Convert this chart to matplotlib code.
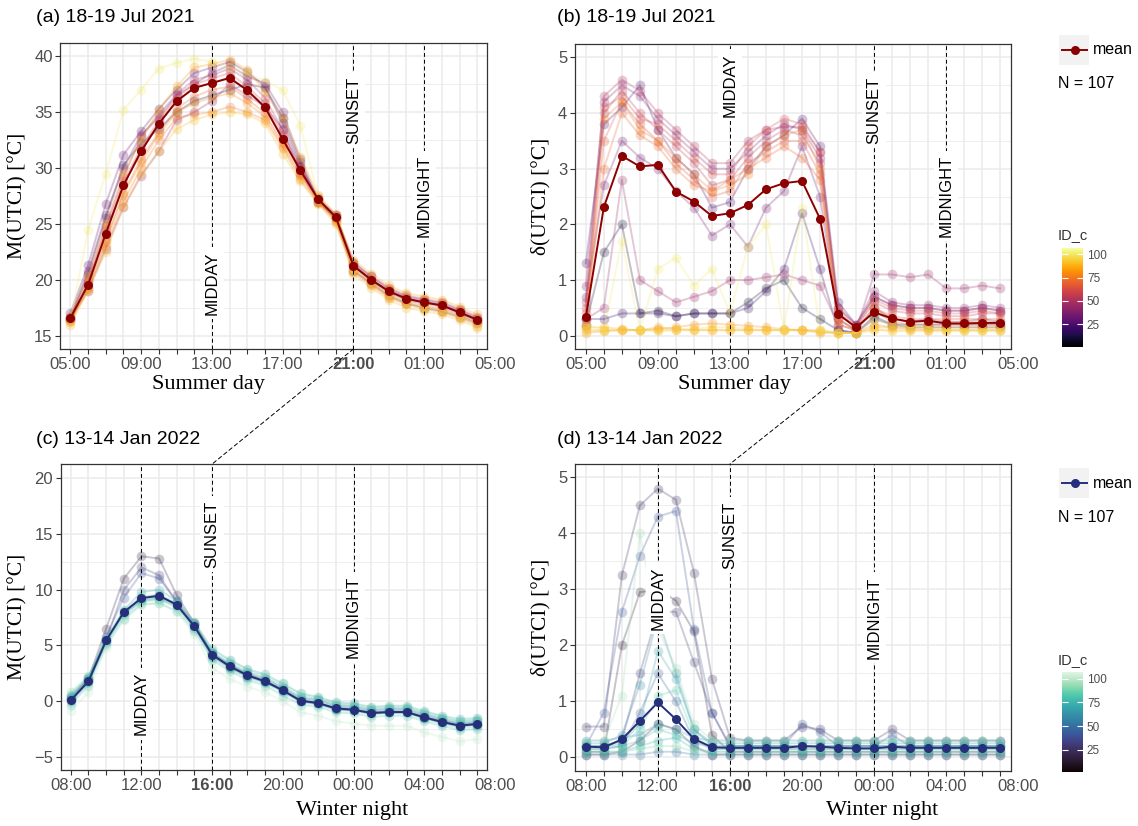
import numpy as np
import matplotlib.pyplot as plt
import seaborn as sns  # registers the "mako" colormap
from matplotlib.colors import Normalize
from matplotlib.patches import Rectangle, ConnectionPatch
from matplotlib.lines import Line2D
from matplotlib.colorbar import ColorbarBase

plt.rcParams['font.family'] = ['Liberation Sans', 'DejaVu Sans']
SERIF = ['Liberation Serif', 'DejaVu Serif']

# ---- data -------------------------------------------------------------
summer_ticks = ["05:00", "09:00", "13:00", "17:00", "21:00", "01:00", "05:00"]
winter_ticks = ["08:00", "12:00", "16:00", "20:00", "00:00", "04:00", "08:00"]

# hour index of the reference lines and height of their labels
summer_events = {"MIDDAY": 8, "SUNSET": 16, "MIDNIGHT": 20}
winter_events = {"MIDDAY": 4, "SUNSET": 8, "MIDNIGHT": 16}
label_y_a = {"MIDDAY": 19.7, "SUNSET": 35.2, "MIDNIGHT": 27.5}
label_y_b = {"MIDDAY": 4.5, "SUNSET": 4.05, "MIDNIGHT": 2.51}
label_y_c = {"MIDDAY": -0.22, "SUNSET": 15.0, "MIDNIGHT": 7.53}
label_y_d = {"MIDDAY": 2.85, "SUNSET": 3.97, "MIDNIGHT": 2.5}

# mean over all sensors
mean_a = [16.58, 19.56, 24.13, 28.45, 31.5, 33.97, 35.97, 37.17, 37.61, 38.06, 36.96, 35.44,
          32.6, 29.8, 27.23, 25.62, 21.26, 20.01, 18.97, 18.31, 17.98, 17.71, 17.09, 16.43]
mean_b = [0.33, 2.31, 3.23, 3.04, 3.07, 2.59, 2.41, 2.15, 2.2, 2.35, 2.63, 2.74,
          2.78, 2.1, 0.39, 0.15, 0.42, 0.31, 0.25, 0.27, 0.22, 0.22, 0.23, 0.23]
mean_c = [0.08, 1.78, 5.45, 7.99, 9.25, 9.46, 8.65, 6.71, 4.17, 3.12, 2.32, 1.78,
          0.97, 0.05, -0.16, -0.64, -0.76, -1.06, -0.97, -0.97, -1.45, -1.86, -2.19, -2.04]
mean_d = [0.19, 0.18, 0.32, 0.65, 0.98, 0.68, 0.33, 0.18, 0.17, 0.17, 0.17, 0.17,
          0.2, 0.19, 0.17, 0.16, 0.16, 0.19, 0.17, 0.17, 0.17, 0.17, 0.17, 0.17]

# individual sensors (ID_c and hourly values)
ids_a = [100, 30, 45, 60, 75, 85, 15, 90, 50, 70, 55, 35, 80]
sensors_a = [
    [16.3, 24.5, 29.5, 35.2, 37.0, 38.9, 39.4, 39.8, 39.5, 39.0, 38.5, 37.8, 37.0, 33.8, 27.5, 25.6, 21.0, 19.8, 18.7, 18.0, 17.6, 17.3, 16.7, 16.0],
    [17.0, 21.3, 26.8, 31.2, 33.3, 35.3, 37.0, 38.5, 39.0, 39.5, 38.6, 37.3, 34.0, 30.2, 27.2, 25.8, 21.5, 20.3, 19.2, 18.5, 18.2, 17.9, 17.3, 16.6],
    [16.5, 19.0, 22.8, 26.5, 29.3, 31.5, 34.3, 35.0, 36.0, 37.5, 36.5, 35.5, 33.5, 29.5, 27.0, 25.5, 21.3, 20.0, 19.0, 18.3, 18.0, 17.7, 17.1, 16.4],
    [16.4, 19.8, 24.5, 28.8, 31.8, 34.3, 36.3, 37.5, 38.0, 38.5, 37.3, 35.8, 33.0, 30.0, 27.3, 25.7, 21.4, 20.1, 19.1, 18.4, 18.1, 17.8, 17.2, 16.5],
    [16.2, 19.2, 23.0, 27.0, 30.0, 32.5, 34.5, 34.8, 35.0, 35.5, 35.0, 34.3, 31.8, 29.0, 26.9, 25.2, 20.7, 19.5, 18.4, 17.8, 17.4, 17.1, 16.6, 15.9],
    [16.8, 20.3, 25.0, 29.5, 32.5, 35.2, 37.3, 39.0, 39.3, 39.7, 38.8, 36.8, 34.5, 31.0, 27.6, 25.9, 21.8, 20.5, 19.5, 18.8, 18.5, 18.2, 17.6, 16.9],
    [16.6, 20.5, 25.5, 30.3, 32.2, 33.5, 35.0, 36.0, 36.5, 37.0, 37.5, 37.2, 34.5, 30.5, 27.0, 25.5, 20.8, 19.7, 18.6, 17.9, 17.5, 17.2, 16.7, 16.1],
    [16.0, 19.0, 22.5, 26.5, 29.5, 31.5, 33.5, 34.3, 34.8, 35.0, 34.8, 34.0, 31.3, 28.8, 26.8, 25.0, 20.5, 19.3, 18.2, 17.5, 17.2, 16.9, 16.4, 15.7],
    [16.7, 20.0, 24.8, 29.2, 32.8, 34.8, 36.6, 37.9, 38.3, 38.9, 37.9, 36.3, 33.4, 30.1, 27.4, 25.8, 21.6, 20.3, 19.3, 18.6, 18.3, 18.0, 17.4, 16.7],
    [16.4, 19.4, 23.6, 27.8, 30.8, 33.2, 35.3, 36.4, 37.0, 37.3, 36.2, 34.9, 32.2, 29.5, 27.1, 25.4, 21.0, 19.8, 18.7, 18.1, 17.7, 17.4, 16.9, 16.2],
    [16.5, 19.6, 24.2, 28.5, 31.6, 34.0, 36.0, 37.2, 37.6, 38.1, 37.0, 35.5, 32.6, 29.8, 27.2, 25.6, 21.3, 20.0, 19.0, 18.3, 18.0, 17.7, 17.1, 16.4],
    [16.6, 20.8, 25.8, 30.0, 33.0, 34.5, 36.5, 37.5, 38.5, 39.2, 38.2, 37.6, 35.0, 30.8, 27.2, 25.6, 21.2, 19.9, 18.9, 18.2, 17.9, 17.6, 17.0, 16.3],
    [16.3, 19.3, 23.4, 27.6, 30.5, 33.0, 35.0, 35.8, 36.3, 36.7, 35.8, 34.6, 32.0, 29.3, 27.0, 25.3, 20.9, 19.6, 18.5, 17.9, 17.6, 17.3, 16.8, 16.1],
]

ids_b = [40, 55, 25, 65, 35, 90, 80, 100, 20, 45, 70, 60, 50, 75, 95, 85, 10]
sensors_b = [
    [0.9, 4.2, 4.5, 4.3, 3.9, 3.6, 3.3, 3.0, 3.0, 3.3, 3.6, 3.8, 3.7, 3.2, 0.5, 0.2, 0.8, 0.6, 0.55, 0.55, 0.5, 0.5, 0.55, 0.5],
    [0.5, 4.0, 4.4, 4.0, 3.7, 3.4, 3.1, 2.7, 2.8, 3.2, 3.5, 3.7, 3.6, 3.1, 0.4, 0.15, 0.6, 0.45, 0.4, 0.4, 0.35, 0.35, 0.4, 0.4],
    [1.3, 3.8, 4.1, 4.5, 3.7, 3.2, 2.9, 2.3, 2.4, 3.0, 3.4, 3.6, 3.9, 3.4, 0.6, 0.2, 0.7, 0.55, 0.5, 0.5, 0.45, 0.45, 0.5, 0.45],
    [0.3, 3.5, 4.2, 3.8, 3.5, 3.1, 2.8, 2.5, 2.6, 3.1, 3.3, 3.5, 3.5, 2.9, 0.3, 0.1, 0.5, 0.35, 0.3, 0.3, 0.3, 0.3, 0.3, 0.3],
    [0.7, 2.7, 3.5, 3.2, 3.0, 2.6, 2.3, 1.8, 2.0, 1.6, 2.3, 2.6, 3.4, 2.5, 0.3, 0.1, 0.5, 0.3, 0.25, 0.3, 0.25, 0.25, 0.3, 0.25],
    [0.1, 0.1, 0.1, 0.1, 0.1, 0.1, 0.1, 0.1, 0.1, 0.1, 0.1, 0.1, 0.1, 0.1, 0.05, 0.05, 0.1, 0.1, 0.1, 0.1, 0.1, 0.1, 0.1, 0.1],
    [0.05, 0.08, 0.1, 0.1, 0.12, 0.15, 0.2, 0.22, 0.2, 0.18, 0.15, 0.12, 0.1, 0.08, 0.05, 0.05, 0.2, 0.15, 0.12, 0.1, 0.1, 0.1, 0.1, 0.1],
    [0.2, 0.1, 1.7, 0.1, 1.2, 1.4, 0.9, 1.2, 0.4, 1.6, 2.0, 0.1, 2.3, 0.1, 0.05, 0.05, 0.3, 0.2, 0.15, 0.15, 0.1, 0.1, 0.1, 0.1],
    [0.3, 0.3, 0.4, 0.4, 0.4, 0.35, 0.4, 0.4, 0.4, 0.5, 0.8, 1.2, 2.2, 1.2, 0.1, 0.05, 0.3, 0.2, 0.15, 0.15, 0.15, 0.15, 0.15, 0.15],
    [0.3, 0.5, 2.8, 1.0, 0.8, 0.6, 0.7, 0.8, 1.0, 1.0, 1.05, 1.1, 1.0, 0.9, 0.2, 0.1, 1.1, 1.1, 1.05, 1.1, 0.85, 0.85, 0.9, 0.85],
    [0.2, 3.0, 4.0, 3.6, 3.4, 3.0, 2.7, 2.6, 2.8, 3.0, 3.2, 3.4, 3.2, 2.8, 0.2, 0.1, 0.45, 0.25, 0.2, 0.2, 0.2, 0.2, 0.2, 0.2],
    [0.4, 4.1, 4.3, 3.9, 3.8, 3.5, 3.2, 2.9, 2.9, 3.4, 3.7, 3.9, 3.8, 3.3, 0.45, 0.15, 0.65, 0.5, 0.45, 0.45, 0.4, 0.4, 0.45, 0.4],
    [0.6, 4.3, 4.6, 4.4, 4.0, 3.7, 3.4, 3.1, 3.1, 3.5, 3.7, 3.75, 3.75, 3.3, 0.5, 0.2, 0.7, 0.55, 0.5, 0.5, 0.45, 0.45, 0.5, 0.45],
    [0.15, 3.9, 4.2, 3.7, 3.5, 3.2, 2.9, 2.6, 2.7, 2.9, 3.4, 3.6, 3.7, 3.0, 0.3, 0.1, 0.5, 0.3, 0.25, 0.25, 0.25, 0.25, 0.25, 0.25],
    [0.08, 0.1, 0.1, 0.1, 0.08, 0.1, 0.12, 0.15, 0.15, 0.12, 0.1, 0.1, 0.1, 0.08, 0.05, 0.05, 0.12, 0.08, 0.08, 0.08, 0.08, 0.08, 0.08, 0.08],
    [0.15, 0.15, 0.12, 0.1, 0.15, 0.12, 0.1, 0.1, 0.1, 0.1, 0.1, 0.1, 0.1, 0.05, 0.05, 0.05, 0.15, 0.15, 0.15, 0.15, 0.15, 0.15, 0.15, 0.15],
    [0.2, 1.5, 2.0, 0.4, 0.45, 0.35, 0.4, 0.4, 0.4, 0.6, 0.85, 1.0, 0.5, 0.3, 0.1, 0.05, 0.35, 0.2, 0.2, 0.2, 0.2, 0.2, 0.2, 0.2],
]

ids_c = [20, 40, 70, 60, 80, 100, 90, 30, 50, 65, 75, 85]
sensors_c = [
    [0.3, 2.0, 6.5, 11.0, 13.0, 12.8, 9.5, 7.0, 4.3, 3.2, 2.4, 1.8, 1.0, 0.0, -0.2, -0.7, -0.8, -1.1, -1.0, -1.0, -1.5, -1.9, -2.2, -2.1],
    [0.2, 1.9, 5.8, 9.3, 11.5, 11.0, 9.0, 6.9, 4.2, 3.1, 2.3, 1.8, 1.0, 0.1, -0.2, -0.6, -0.7, -1.0, -0.9, -0.9, -1.4, -1.8, -2.1, -2.0],
    [0.6, 2.2, 5.6, 8.2, 9.8, 10.0, 9.0, 7.1, 4.7, 3.7, 2.9, 2.4, 1.6, 0.7, 0.4, -0.1, -0.2, -0.5, -0.4, -0.4, -0.9, -1.3, -1.6, -1.5],
    [0.0, 1.7, 5.3, 7.8, 9.0, 9.2, 8.5, 6.6, 4.0, 3.0, 2.2, 1.7, 0.9, 0.0, -0.2, -0.7, -0.8, -1.1, -1.0, -1.0, -1.5, -1.9, -2.3, -2.1],
    [-0.3, 1.4, 5.0, 7.4, 8.7, 8.8, 8.1, 6.3, 3.7, 2.7, 1.9, 1.4, 0.5, -0.3, -0.5, -1.0, -1.1, -1.4, -1.3, -1.3, -1.8, -2.2, -2.6, -2.5],
    [-0.9, 0.8, 4.8, 7.3, 8.6, 8.8, 8.0, 6.0, 3.0, 2.0, 1.3, 0.8, 0.0, -1.0, -1.3, -1.8, -2.0, -2.2, -2.2, -2.2, -2.8, -3.2, -3.6, -3.4],
    [0.8, 2.3, 5.6, 8.1, 9.4, 9.6, 8.8, 7.0, 4.5, 3.6, 2.8, 2.2, 1.5, 0.6, 0.3, -0.2, -0.3, -0.6, -0.5, -0.5, -1.0, -1.4, -1.8, -1.6],
    [0.1, 1.8, 5.5, 10.0, 12.0, 11.3, 8.8, 6.8, 4.1, 3.1, 2.3, 1.7, 1.0, 0.0, -0.2, -0.7, -0.8, -1.0, -1.0, -1.0, -1.4, -1.8, -2.2, -2.0],
    [0.4, 2.0, 5.4, 8.0, 9.3, 9.5, 8.7, 6.8, 4.3, 3.3, 2.5, 2.0, 1.2, 0.3, 0.1, -0.4, -0.5, -0.8, -0.7, -0.7, -1.2, -1.6, -2.0, -1.8],
    [0.2, 1.8, 5.4, 7.9, 9.1, 9.3, 8.6, 6.7, 4.2, 3.2, 2.4, 1.9, 1.1, 0.2, 0.0, -0.5, -0.6, -0.9, -0.8, -0.8, -1.3, -1.7, -2.0, -1.9],
    [0.5, 2.1, 5.5, 8.0, 9.2, 9.4, 8.7, 6.9, 4.4, 3.4, 2.6, 2.1, 1.3, 0.4, 0.2, -0.3, -0.4, -0.7, -0.6, -0.6, -1.1, -1.5, -1.8, -1.7],
    [-0.1, 1.6, 5.2, 7.7, 8.9, 9.1, 8.4, 6.5, 3.9, 2.9, 2.1, 1.6, 0.8, -0.1, -0.3, -0.8, -0.9, -1.2, -1.1, -1.1, -1.6, -2.0, -2.4, -2.3],
]

ids_d = [25, 40, 15, 95, 60, 75, 50, 30, 85, 70, 65, 80, 90, 45, 20]
sensors_d = [
    [0.55, 0.55, 3.25, 4.5, 4.8, 4.6, 3.3, 1.4, 0.35, 0.3, 0.3, 0.3, 0.55, 0.5, 0.3, 0.3, 0.3, 0.5, 0.3, 0.3, 0.3, 0.3, 0.3, 0.3],
    [0.2, 0.8, 2.6, 3.6, 4.3, 4.4, 2.3, 0.8, 0.2, 0.2, 0.2, 0.2, 0.6, 0.45, 0.2, 0.2, 0.2, 0.4, 0.2, 0.2, 0.2, 0.2, 0.2, 0.2],
    [0.1, 0.1, 2.0, 2.95, 3.0, 2.8, 2.25, 0.4, 0.1, 0.1, 0.1, 0.1, 0.1, 0.1, 0.1, 0.1, 0.1, 0.1, 0.1, 0.1, 0.1, 0.1, 0.1, 0.1],
    [0.3, 0.3, 1.1, 4.0, 2.3, 1.6, 0.6, 0.3, 0.3, 0.3, 0.3, 0.3, 0.3, 0.3, 0.3, 0.3, 0.3, 0.3, 0.3, 0.3, 0.3, 0.3, 0.3, 0.3],
    [0.25, 0.25, 0.4, 1.3, 2.5, 1.5, 0.5, 0.25, 0.25, 0.25, 0.25, 0.25, 0.25, 0.25, 0.25, 0.25, 0.25, 0.25, 0.25, 0.25, 0.25, 0.25, 0.25, 0.25],
    [0.1, 0.1, 0.1, 0.2, 0.3, 0.35, 0.15, 0.1, 0.1, 0.1, 0.1, 0.1, 0.1, 0.1, 0.1, 0.1, 0.1, 0.1, 0.1, 0.1, 0.1, 0.1, 0.1, 0.1],
    [0.05, 0.05, 0.05, 0.05, 0.1, 0.1, 0.05, 0.05, 0.05, 0.05, 0.05, 0.05, 0.05, 0.05, 0.05, 0.05, 0.05, 0.05, 0.05, 0.05, 0.05, 0.05, 0.05, 0.05],
    [0.2, 0.2, 0.3, 1.5, 2.6, 2.6, 1.7, 0.8, 0.2, 0.2, 0.2, 0.2, 0.2, 0.2, 0.2, 0.2, 0.2, 0.2, 0.2, 0.2, 0.2, 0.2, 0.2, 0.2],
    [0.15, 0.15, 0.2, 0.5, 1.1, 1.2, 0.4, 0.15, 0.15, 0.15, 0.15, 0.15, 0.15, 0.15, 0.15, 0.15, 0.15, 0.15, 0.15, 0.15, 0.15, 0.15, 0.15, 0.15],
    [0.2, 0.2, 0.25, 0.6, 1.9, 1.4, 0.5, 0.2, 0.2, 0.2, 0.2, 0.2, 0.2, 0.2, 0.2, 0.2, 0.2, 0.2, 0.2, 0.2, 0.2, 0.2, 0.2, 0.2],
    [0.3, 0.3, 0.35, 0.4, 0.6, 0.5, 0.35, 0.3, 0.3, 0.3, 0.3, 0.3, 0.3, 0.3, 0.3, 0.3, 0.3, 0.3, 0.3, 0.3, 0.3, 0.3, 0.3, 0.3],
    [0.2, 0.2, 0.2, 0.3, 0.5, 0.4, 0.25, 0.2, 0.2, 0.2, 0.2, 0.2, 0.2, 0.2, 0.2, 0.2, 0.2, 0.2, 0.2, 0.2, 0.2, 0.2, 0.2, 0.2],
    [0.1, 0.1, 0.1, 0.15, 0.2, 0.2, 0.1, 0.1, 0.1, 0.1, 0.1, 0.1, 0.1, 0.1, 0.1, 0.1, 0.1, 0.1, 0.1, 0.1, 0.1, 0.1, 0.1, 0.1],
    [0.15, 0.15, 0.2, 0.8, 1.5, 1.0, 0.3, 0.15, 0.15, 0.15, 0.15, 0.15, 0.15, 0.15, 0.15, 0.15, 0.15, 0.15, 0.15, 0.15, 0.15, 0.15, 0.15, 0.15],
    [0.05, 0.05, 0.1, 0.3, 0.6, 0.5, 0.2, 0.05, 0.05, 0.05, 0.05, 0.05, 0.05, 0.05, 0.05, 0.05, 0.05, 0.05, 0.05, 0.05, 0.05, 0.05, 0.05, 0.05],
]

n_sensors = 107

# ---- layout helpers (pixel positions on a 1138 x 826 canvas) -----------
W, H = 1138, 826


def box(l, t, r, b):
    return [l / W, 1 - b / H, (r - l) / W, (b - t) / H]


def fx(x):
    return x / W


def fy(y):
    return 1 - y / H


fig = plt.figure(figsize=(W / 100, H / 100), dpi=100)

GRID = '#EBEBEB'
FRAME = '#333333'
TICKC = '#4D4D4D'
TICK_FS = 12
norm = Normalize(1, n_sensors)
cm_summer = plt.get_cmap('inferno')
cm_winter = plt.get_cmap('mako')


def draw_panel(ax, ids, sensors, mean, cmap, mean_col, ylim, yticks, xlim,
               ticklabels, bold_idx, events, label_y):
    hours = np.arange(len(mean))
    for sid, vals in sorted(zip(ids, sensors)):
        c = cmap(norm(sid))
        ax.plot(hours, vals, '-o', color=c, alpha=0.26, lw=1.4, ms=7, mec='none', zorder=2)
    ax.plot(hours, mean, '-o', color=mean_col, lw=1.4, ms=5.5, zorder=4)

    # reference lines with boxed labels
    for name, idx in events.items():
        ax.axvline(idx, color='black', lw=0.7, ls=(0, (4, 3)), zorder=3)
        ax.text(idx, label_y[name], name, rotation=90, ha='center', va='center',
                fontsize=12, zorder=5,
                bbox=dict(boxstyle='square,pad=0.25', fc='white', ec='none'))

    ax.set_xlim(*xlim)
    ax.set_ylim(*ylim)
    ax.set_xticks(hours)
    ax.set_xticklabels([ticklabels[i // 4] if i % 4 == 0 else '' for i in hours])
    ax.get_xticklabels()[bold_idx].set_fontweight('bold')
    # closing label one hour past the last point, outside the panel
    ax.annotate(ticklabels[-1], xy=(24, 0), xycoords=('data', 'axes fraction'),
                xytext=(0, -5.5), textcoords='offset points', ha='center', va='top',
                fontsize=TICK_FS, color=TICKC, annotation_clip=False)
    ax.set_yticks(yticks)
    step = yticks[1] - yticks[0]
    ax.set_yticks(np.array(yticks[:-1]) + step / 2, minor=True)
    ax.tick_params(axis='both', which='major', labelsize=TICK_FS, labelcolor=TICKC,
                   color=FRAME, length=3.5, width=0.8, pad=2)
    ax.tick_params(axis='y', which='minor', length=0)
    ax.grid(True, which='major', color=GRID, lw=1.1, zorder=0)
    ax.grid(True, which='minor', axis='y', color=GRID, lw=0.6, zorder=0)
    ax.set_axisbelow(True)
    for s in ax.spines.values():
        s.set_color(FRAME)
        s.set_linewidth(0.9)


ax_a = fig.add_axes(box(60.3, 43, 487.3, 349))
ax_b = fig.add_axes(box(575, 44, 1011, 349.3))
ax_c = fig.add_axes(box(60.7, 464, 487.3, 770))
ax_d = fig.add_axes(box(575, 464, 1011, 771))

draw_panel(ax_a, ids_a, sensors_a, mean_a, cm_summer, '#8B0000', (13.81, 41.19),
           [15, 20, 25, 30, 35, 40], (-0.57, 23.57), summer_ticks, 16, summer_events, label_y_a)
draw_panel(ax_b, ids_b, sensors_b, mean_b, cm_summer, '#8B0000', (-0.244, 5.24),
           [0, 1, 2, 3, 4, 5], (-0.6, 23.6), summer_ticks, 16, summer_events, label_y_b)
draw_panel(ax_c, ids_c, sensors_c, mean_c, cm_winter, '#26307A', (-6.17, 21.28),
           [-5, 0, 5, 10, 15, 20], (-0.57, 23.57), winter_ticks, 8, winter_events, label_y_c)
draw_panel(ax_d, ids_d, sensors_d, mean_d, cm_winter, '#26307A', (-0.244, 5.24),
           [0, 1, 2, 3, 4, 5], (-0.6, 23.6), winter_ticks, 8, winter_events, label_y_d)

# panel titles
for (x, y), t in zip([(36, 18), (557, 18), (36, 439), (557, 439)],
                     ["(a) 18-19 Jul 2021", "(b) 18-19 Jul 2021",
                      "(c) 13-14 Jan 2022", "(d) 13-14 Jan 2022"]):
    fig.text(fx(x), fy(y), t, fontsize=14, ha='left', va='center')

# axis titles
for x, y, t in [(208, 385, "Summer day"), (734, 385, "Summer day"),
                (352, 811, "Winter night"), (882, 811, "Winter night")]:
    fig.text(fx(x), fy(y), t, family=SERIF, fontsize=16, ha='center', va='center')
for x, y, t in [(18, 196, "M(UTCI) [°C]"), (541, 196, "δ(UTCI) [°C]"),
                (18, 617, "M(UTCI) [°C]"), (541, 617, "δ(UTCI) [°C]")]:
    fig.text(fx(x), fy(y), t, family=SERIF, fontsize=15.5, rotation=90,
             ha='center', va='center')

# sunset in summer linked to sunset in winter
for top, bot in [(ax_a, ax_c), (ax_b, ax_d)]:
    con = ConnectionPatch(xyA=(summer_events["SUNSET"], top.get_ylim()[0]), coordsA=top.transData,
                          xyB=(winter_events["SUNSET"], bot.get_ylim()[1]), coordsB=bot.transData,
                          color='black', lw=0.7, ls=(0, (4, 3)), zorder=10)
    fig.add_artist(con)


# legends: mean key, sample size and ID colour bar
def side_legend(key_top, n_y, title_y, bar_top, bar_bot, mean_col, cmap):
    fig.add_artist(Rectangle((fx(1059), fy(key_top + 30)), 30 / W, 30 / H,
                             transform=fig.transFigure, fc='#F2F2F2', ec='none'))
    ky = fy(key_top + 15)
    fig.add_artist(Line2D([fx(1062), fx(1087)], [ky, ky], transform=fig.transFigure,
                          color=mean_col, lw=1.4))
    fig.add_artist(Line2D([fx(1074.5)], [ky], transform=fig.transFigure, marker='o',
                          color=mean_col, ms=5.5))
    fig.text(fx(1093), ky, "mean", fontsize=11.5, ha='left', va='center')
    fig.text(fx(1058), fy(n_y), f"N = {n_sensors}", fontsize=11.5, ha='left', va='center')
    fig.text(fx(1058), fy(title_y), "ID_c", fontsize=10.5, color='#333333', ha='left', va='center')
    cax = fig.add_axes(box(1062.3, bar_top, 1082.7, bar_bot))
    cb = ColorbarBase(cax, cmap=cmap, norm=norm, ticks=[25, 50, 75, 100])
    cb.outline.set_visible(False)
    cax.tick_params(left=True, right=True, direction='in', length=4, width=0.8,
                    color='white', labelsize=8.5, labelcolor=TICKC, pad=3)


side_legend(35, 84, 235, 247.7, 346.7, '#8B0000', cm_summer)
side_legend(468, 517, 660, 672.3, 772.3, '#26307A', cm_winter)

fig.savefig('out.png', dpi=100)
